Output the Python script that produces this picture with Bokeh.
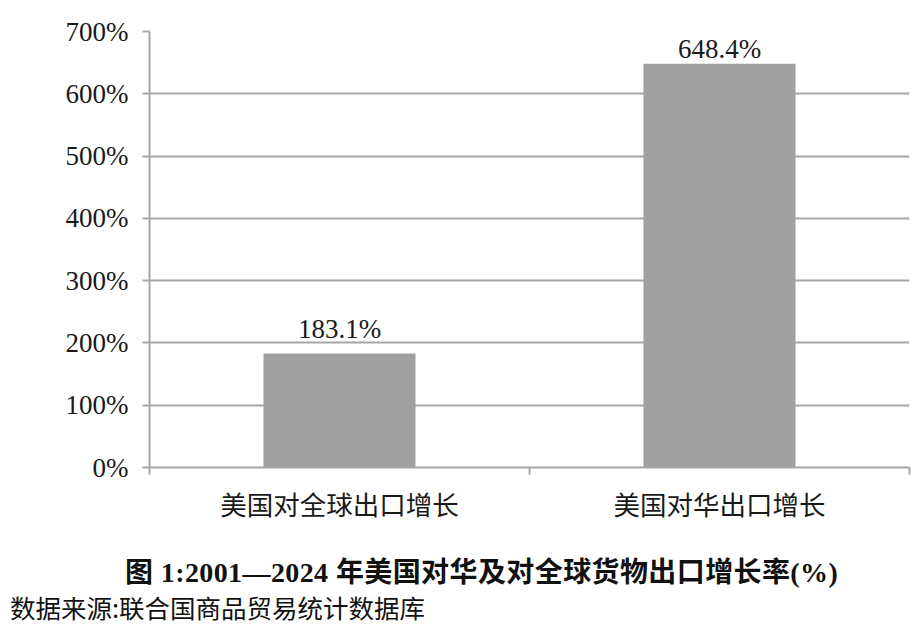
from bokeh.plotting import figure
from bokeh.models import FixedTicker, Range1d, Div
from bokeh.layouts import column
from bokeh.core.properties import value
from bokeh.embed import file_html
from bokeh.resources import INLINE

categories = ["美国对全球出口增长", "美国对华出口增长"]
growth = [183.1, 648.4]
y_ticks = [0, 100, 200, 300, 400, 500, 600, 700]
y_tick_labels = ["0%", "100%", "200%", "300%", "400%", "500%", "600%", "700%"]
title_text = "图 1:2001—2024 年美国对华及对全球货物出口增长率(%)"
source_text = "数据来源:联合国商品贸易统计数据库"

GRAY = "#a6a6a6"
BAR = "#a0a0a0"
TXT = "#1a1a1a"
SERIF = "Liberation Serif"
CJK = "Noto Sans CJK SC"

n = len(categories)
x_pos = [i + 0.5 for i in range(n)]
bounds = [float(i) for i in range(n + 1)]
value_labels = [f"{v:.1f}%" for v in growth]

p = figure(frame_width=760, frame_height=436,
           x_range=Range1d(0, n), y_range=Range1d(y_ticks[0], y_ticks[-1]),
           output_backend="svg", toolbar_location=None,
           min_border_left=149, min_border_right=3, min_border_top=31,
           min_border_bottom=60)
p.outline_line_color = None
p.background_fill_color = "white"
p.border_fill_color = "white"

p.vbar(x=x_pos, top=growth, width=0.4, fill_color=BAR, line_color=None)
p.text(x=x_pos, y=growth, text=value_labels, text_align="center",
       text_baseline="alphabetic", y_offset=[-24, -15],
       text_font=value(SERIF), text_font_size="27px", text_color=TXT)

# grid
p.xgrid.grid_line_color = None
p.ygrid.grid_line_color = GRAY
p.ygrid.grid_line_width = 2
p.ygrid.ticker = FixedTicker(ticks=y_ticks)

# y axis
p.yaxis.ticker = FixedTicker(ticks=y_ticks)
p.yaxis.major_label_overrides = {t: l for t, l in zip(y_ticks, y_tick_labels)}
p.yaxis.axis_line_color = GRAY
p.yaxis.axis_line_width = 2
p.yaxis.major_tick_line_color = GRAY
p.yaxis.major_tick_line_width = 2
p.yaxis.major_tick_out = 7
p.yaxis.major_tick_in = 0
p.yaxis.minor_tick_line_color = None
p.yaxis.major_label_text_font = SERIF
p.yaxis.major_label_text_font_size = "27px"
p.yaxis.major_label_text_color = TXT
p.yaxis.major_label_standoff = 14

# x axis
p.xaxis.ticker = FixedTicker(ticks=x_pos, minor_ticks=bounds)
p.xaxis.major_label_overrides = {x: c for x, c in zip(x_pos, categories)}
p.xaxis.axis_line_color = GRAY
p.xaxis.axis_line_width = 2
p.xaxis.major_tick_line_color = None
p.xaxis.major_tick_out = 0
p.xaxis.major_tick_in = 0
p.xaxis.minor_tick_line_color = GRAY
p.xaxis.minor_tick_line_width = 2
p.xaxis.minor_tick_out = 7
p.xaxis.minor_tick_in = 0
p.xaxis.major_label_text_font = CJK
p.xaxis.major_label_text_font_size = "26.5px"
p.xaxis.major_label_text_color = TXT
p.xaxis.major_label_standoff = 9

caption_html = (
    '<div style="margin:0;padding:0;color:#111;">'
    '<div style="margin:29px 0 0 0;padding-left:125px;white-space:nowrap;'
    "font-family:'Liberation Serif','Noto Sans CJK SC',serif;font-weight:bold;"
    f'font-size:28px;letter-spacing:0.4px;line-height:34px;">{title_text}</div>'
    '<div style="margin:0;padding-left:10px;white-space:nowrap;'
    "font-family:'Noto Sans CJK SC',sans-serif;font-weight:normal;"
    f'font-size:25.5px;line-height:34px;">{source_text}</div>'
    '</div>'
)
caption = Div(text=caption_html, width=904, height=110, margin=(0, 0, 0, 0))

layout = column(p, caption, spacing=0)
open("out.html", "w").write(file_html(layout, INLINE))
